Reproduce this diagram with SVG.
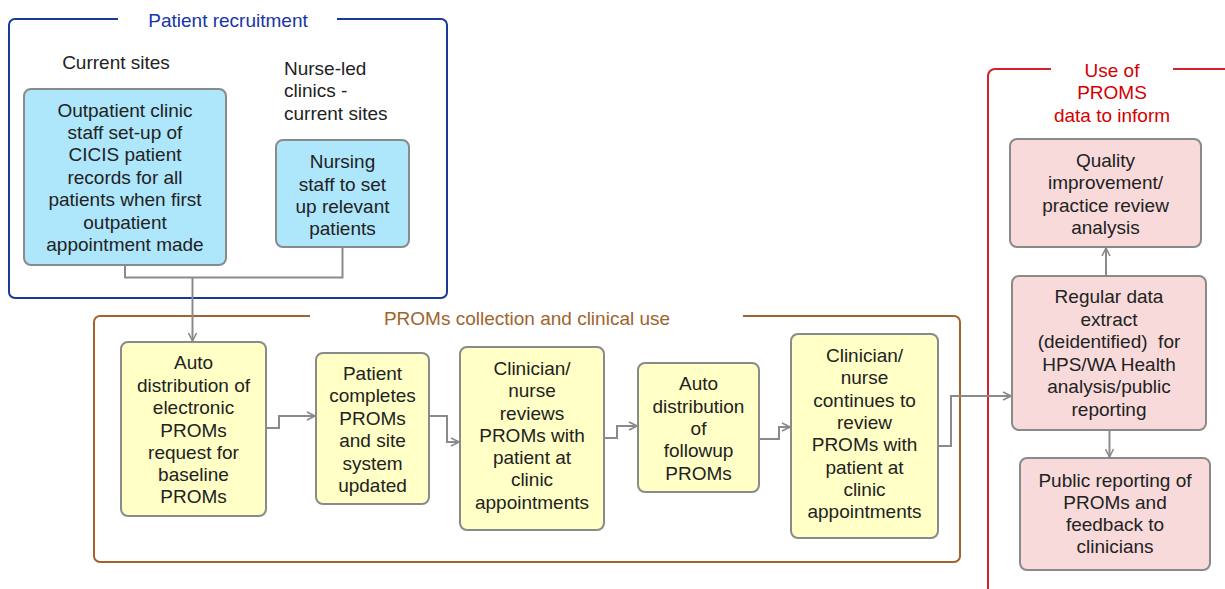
<svg xmlns="http://www.w3.org/2000/svg" width="1225" height="589" viewBox="0 0 1225 589">
  <defs>
    <marker id="arrow" viewBox="0 0 10 10" refX="9" refY="5" markerWidth="10" markerHeight="10" markerUnits="userSpaceOnUse" orient="auto">
      <path d="M1,1 L9,5 L1,9" fill="none" stroke="#8a8a8a" stroke-width="1.6"/>
    </marker>
    <style>
      text { font-family: "Liberation Sans", Arial, sans-serif; font-size: 19px; fill: #222; }
      .c { text-anchor: middle; }
      .pre { white-space: pre; }
      .box { stroke: #8a8a8a; stroke-width: 2; }
      .blue { fill: #aee6fb; }
      .yellow { fill: #ffffc6; }
      .pink { fill: #f8dadb; }
      .conn { fill: none; stroke: #8a8a8a; stroke-width: 2; }
      .frame { fill: none; stroke-width: 2; }
    </style>
  </defs>

  <rect width="1225" height="589" fill="#ffffff"/>

  <!-- Group frames -->
  <g id="frame-recruitment">
    <path class="frame" stroke="#1a3a9a" d="M118,19 H15 A6,6 0 0 0 9,25 V292 A6,6 0 0 0 15,298 H441 A6,6 0 0 0 447,292 V25 A6,6 0 0 0 441,19 H337"/>
    <text class="c" x="228" y="27" style="fill:#1535a8">Patient recruitment</text>
  </g>
  <g id="frame-collection">
    <path class="frame" stroke="#a0642c" d="M310,316 H100 A6,6 0 0 0 94,322 V556 A6,6 0 0 0 100,562 H954 A6,6 0 0 0 960,556 V322 A6,6 0 0 0 954,316 H743"/>
    <text class="c" x="527" y="325" style="fill:#a0642c">PROMs collection and clinical use</text>
  </g>
  <g id="frame-use">
    <path class="frame" stroke="#d3222a" d="M1051,69 H995 A7,7 0 0 0 988,76 V589 M1173,69 H1225"/>
    <text class="c" x="1112" y="77" style="fill:#d40000">Use of</text>
    <text class="c" x="1112" y="99" style="fill:#d40000">PROMS</text>
    <text class="c" x="1112" y="122" style="fill:#d40000">data to inform</text>
  </g>

  <!-- Connectors -->
  <g id="connectors">
    <path class="conn" d="M125,265 V277.5 H342.5 V247"/>
    <path class="conn" d="M192.5,277.5 V341" marker-end="url(#arrow)"/>
    <path class="conn" d="M266,428 H279 V416 H315" marker-end="url(#arrow)"/>
    <path class="conn" d="M429,416 H447 V442 H459" marker-end="url(#arrow)"/>
    <path class="conn" d="M603,438 H617 V426 H637" marker-end="url(#arrow)"/>
    <path class="conn" d="M759,439 H779 V427 H790" marker-end="url(#arrow)"/>
    <path class="conn" d="M938,446 H951 V396 H1011" marker-end="url(#arrow)"/>
    <path class="conn" d="M1106,276 V248" marker-end="url(#arrow)"/>
    <path class="conn" d="M1109.5,430 V457" marker-end="url(#arrow)"/>
  </g>

  <!-- Patient recruitment -->
  <g id="label-current-sites">
    <text class="c" x="116" y="69">Current sites</text>
  </g>
  <g id="label-nurse-led">
    <text x="284" y="75">Nurse-led</text>
    <text x="284" y="97">clinics -</text>
    <text x="284" y="120">current sites</text>
  </g>
  <g id="node-outpatient-setup">
    <rect class="box blue" x="24" y="89" width="202" height="176" rx="7"/>
    <text class="c" x="125" y="117">Outpatient clinic</text>
    <text class="c" x="125" y="139">staff set-up of</text>
    <text class="c" x="125" y="161">CICIS patient</text>
    <text class="c" x="125" y="184">records for all</text>
    <text class="c" x="125" y="206">patients when first</text>
    <text class="c" x="125" y="229">outpatient</text>
    <text class="c" x="125" y="251">appointment made</text>
  </g>
  <g id="node-nursing-setup">
    <rect class="box blue" x="276" y="140" width="133" height="107" rx="7"/>
    <text class="c" x="342.5" y="168">Nursing</text>
    <text class="c" x="342.5" y="191">staff to set</text>
    <text class="c" x="342.5" y="213">up relevant</text>
    <text class="c" x="342.5" y="235">patients</text>
  </g>

  <!-- PROMs collection and clinical use -->
  <g id="node-auto-baseline">
    <rect class="box yellow" x="121" y="342" width="145" height="174" rx="7"/>
    <text class="c" x="193.5" y="369">Auto</text>
    <text class="c" x="193.5" y="392">distribution of</text>
    <text class="c" x="193.5" y="414">electronic</text>
    <text class="c" x="193.5" y="437">PROMs</text>
    <text class="c" x="193.5" y="459">request for</text>
    <text class="c" x="193.5" y="481">baseline</text>
    <text class="c" x="193.5" y="503">PROMs</text>
  </g>
  <g id="node-patient-completes">
    <rect class="box yellow" x="316" y="353" width="113" height="151" rx="7"/>
    <text class="c" x="372.5" y="380">Patient</text>
    <text class="c" x="372.5" y="402">completes</text>
    <text class="c" x="372.5" y="425">PROMs</text>
    <text class="c" x="372.5" y="447">and site</text>
    <text class="c" x="372.5" y="470">system</text>
    <text class="c" x="372.5" y="492">updated</text>
  </g>
  <g id="node-clinician-reviews">
    <rect class="box yellow" x="460" y="347" width="144" height="183" rx="7"/>
    <text class="c" x="532" y="375">Clinician/</text>
    <text class="c" x="532" y="397">nurse</text>
    <text class="c" x="532" y="420">reviews</text>
    <text class="c" x="532" y="442">PROMs with</text>
    <text class="c" x="532" y="464">patient at</text>
    <text class="c" x="532" y="486">clinic</text>
    <text class="c" x="532" y="509">appointments</text>
  </g>
  <g id="node-auto-followup">
    <rect class="box yellow" x="638" y="363" width="121" height="129" rx="7"/>
    <text class="c" x="698.5" y="390">Auto</text>
    <text class="c" x="698.5" y="413">distribution</text>
    <text class="c" x="698.5" y="435">of</text>
    <text class="c" x="698.5" y="457">followup</text>
    <text class="c" x="698.5" y="480">PROMs</text>
  </g>
  <g id="node-clinician-continues">
    <rect class="box yellow" x="791" y="334" width="147" height="204" rx="7"/>
    <text class="c" x="864.5" y="362">Clinician/</text>
    <text class="c" x="864.5" y="384">nurse</text>
    <text class="c" x="864.5" y="407">continues to</text>
    <text class="c" x="864.5" y="429">review</text>
    <text class="c" x="864.5" y="451">PROMs with</text>
    <text class="c" x="864.5" y="474">patient at</text>
    <text class="c" x="864.5" y="496">clinic</text>
    <text class="c" x="864.5" y="518">appointments</text>
  </g>

  <!-- Use of PROMS data -->
  <g id="node-quality-improvement">
    <rect class="box pink" x="1010" y="139" width="191" height="108" rx="7"/>
    <text class="c" x="1105.5" y="167">Quality</text>
    <text class="c" x="1105.5" y="189">improvement/</text>
    <text class="c" x="1105.5" y="212">practice review</text>
    <text class="c" x="1105.5" y="234">analysis</text>
  </g>
  <g id="node-data-extract">
    <rect class="box pink" x="1012" y="276" width="194" height="154" rx="7"/>
    <text class="c" x="1109" y="303">Regular data</text>
    <text class="c" x="1109" y="326">extract</text>
    <text class="c pre" x="1109" y="348" xml:space="preserve">(deidentified)  for</text>
    <text class="c" x="1109" y="371">HPS/WA Health</text>
    <text class="c" x="1109" y="393">analysis/public</text>
    <text class="c" x="1109" y="416">reporting</text>
  </g>
  <g id="node-public-reporting">
    <rect class="box pink" x="1020" y="458" width="190" height="112" rx="7"/>
    <text class="c" x="1115" y="487">Public reporting of</text>
    <text class="c" x="1115" y="509">PROMs and</text>
    <text class="c" x="1115" y="531">feedback to</text>
    <text class="c" x="1115" y="553">clinicians</text>
  </g>
</svg>
